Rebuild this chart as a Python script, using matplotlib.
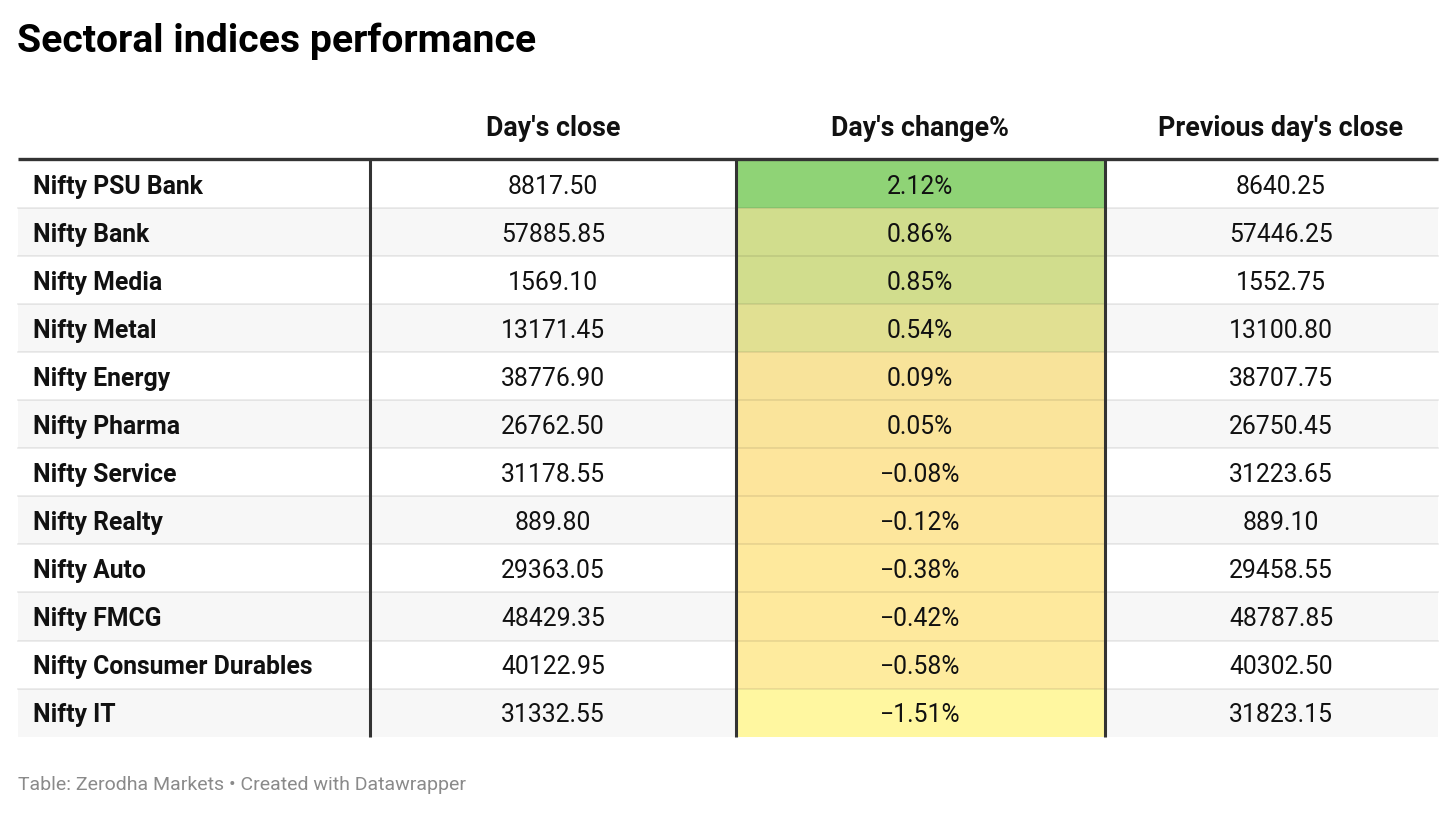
import matplotlib
matplotlib.use('Agg')
import matplotlib.pyplot as plt
from matplotlib.colors import LinearSegmentedColormap, TwoSlopeNorm

# Data
indices = ['Nifty PSU Bank', 'Nifty Bank', 'Nifty Media', 'Nifty Metal', 'Nifty Energy',
           'Nifty Pharma', 'Nifty Service', 'Nifty Realty', 'Nifty Auto', 'Nifty FMCG',
           'Nifty Consumer Durables', 'Nifty IT']
day_close = [8817.50, 57885.85, 1569.10, 13171.45, 38776.90, 26762.50, 31178.55,
             889.80, 29363.05, 48429.35, 40122.95, 31332.55]
day_change = [2.12, 0.86, 0.85, 0.54, 0.09, 0.05, -0.08, -0.12, -0.38, -0.42, -0.58, -1.51]
prev_close = [8640.25, 57446.25, 1552.75, 13100.80, 38707.75, 26750.45, 31223.65,
              889.10, 29458.55, 48787.85, 40302.50, 31823.15]
headers = ["Day's close", "Day's change%", "Previous day's close"]

plt.rcParams['font.family'] = ['Roboto', 'DejaVu Sans']

fig = plt.figure(figsize=(14.56, 8.13), dpi=100)
ax = fig.add_axes([0, 0, 1, 1])
ax.set_xlim(0, 1456)
ax.set_ylim(813, 0)
ax.axis('off')

# layout (pixels)
left, right = 18, 1438
col_edges = [18, 370, 736, 1105, 1438]
col_text_x = [33, 553, 920, 1281]
top = 160
row_h = 48.05
txt = '#111111'

cmap = LinearSegmentedColormap.from_list('heat', ['#fff7a0', '#fde49c', '#8fd376'])
norm = TwoSlopeNorm(vmin=min(day_change), vcenter=0, vmax=max(day_change))

for i, name in enumerate(indices):
    y0 = top + i * row_h
    yc = y0 + row_h / 2 + 2.5
    # zebra rows
    if i % 2 == 1:
        ax.bar((left + right) / 2, row_h, width=right - left, bottom=y0,
               color='#f7f7f7', linewidth=0, zorder=0)
    # heat cell
    ax.bar((col_edges[2] + col_edges[3]) / 2, row_h, width=col_edges[3] - col_edges[2],
           bottom=y0, color=cmap(norm(day_change[i])), linewidth=0, zorder=1)
    # row separator
    if i > 0:
        ax.plot([left, right], [y0, y0], color='black', alpha=0.09, lw=1.2, zorder=2)

    ax.text(col_text_x[0], yc, name, ha='left', va='center', fontsize=17.8,
            fontweight='bold', color=txt, zorder=5)
    ax.text(col_text_x[1], yc, f'{day_close[i]:.2f}', ha='center', va='center',
            fontsize=17.8, color=txt, zorder=5)
    ax.text(col_text_x[2], yc, f'{day_change[i]:.2f}%'.replace('-', '\u2212'),
            ha='center', va='center', fontsize=17.8, color=txt, zorder=5)
    ax.text(col_text_x[3], yc, f'{prev_close[i]:.2f}', ha='center', va='center',
            fontsize=17.8, color=txt, zorder=5)

bottom = top + len(indices) * row_h

# vertical column borders
for x in col_edges[1:4]:
    ax.plot([x, x], [top - 1, bottom], color='#333333', lw=2.2, solid_capstyle='butt', zorder=4)

# header line
ax.plot([left, right], [top - 1, top - 1], color='#333333', lw=2.4, solid_capstyle='butt', zorder=4)

# headers
for x, h in zip(col_text_x[1:], headers):
    ax.text(x, 129, h, ha='center', va='center', fontsize=19.3, fontweight='bold',
            color=txt)

# title and footer
ax.text(17, 41, 'Sectoral indices performance', ha='left', va='center', fontsize=28.2,
        fontweight='bold', color='#000000')
ax.text(18, 785, 'Table: Zerodha Markets \u2022 Created with Datawrapper', ha='left',
        va='center', fontsize=14, color='#8a8a8a')

fig.savefig('out.png', dpi=100)
